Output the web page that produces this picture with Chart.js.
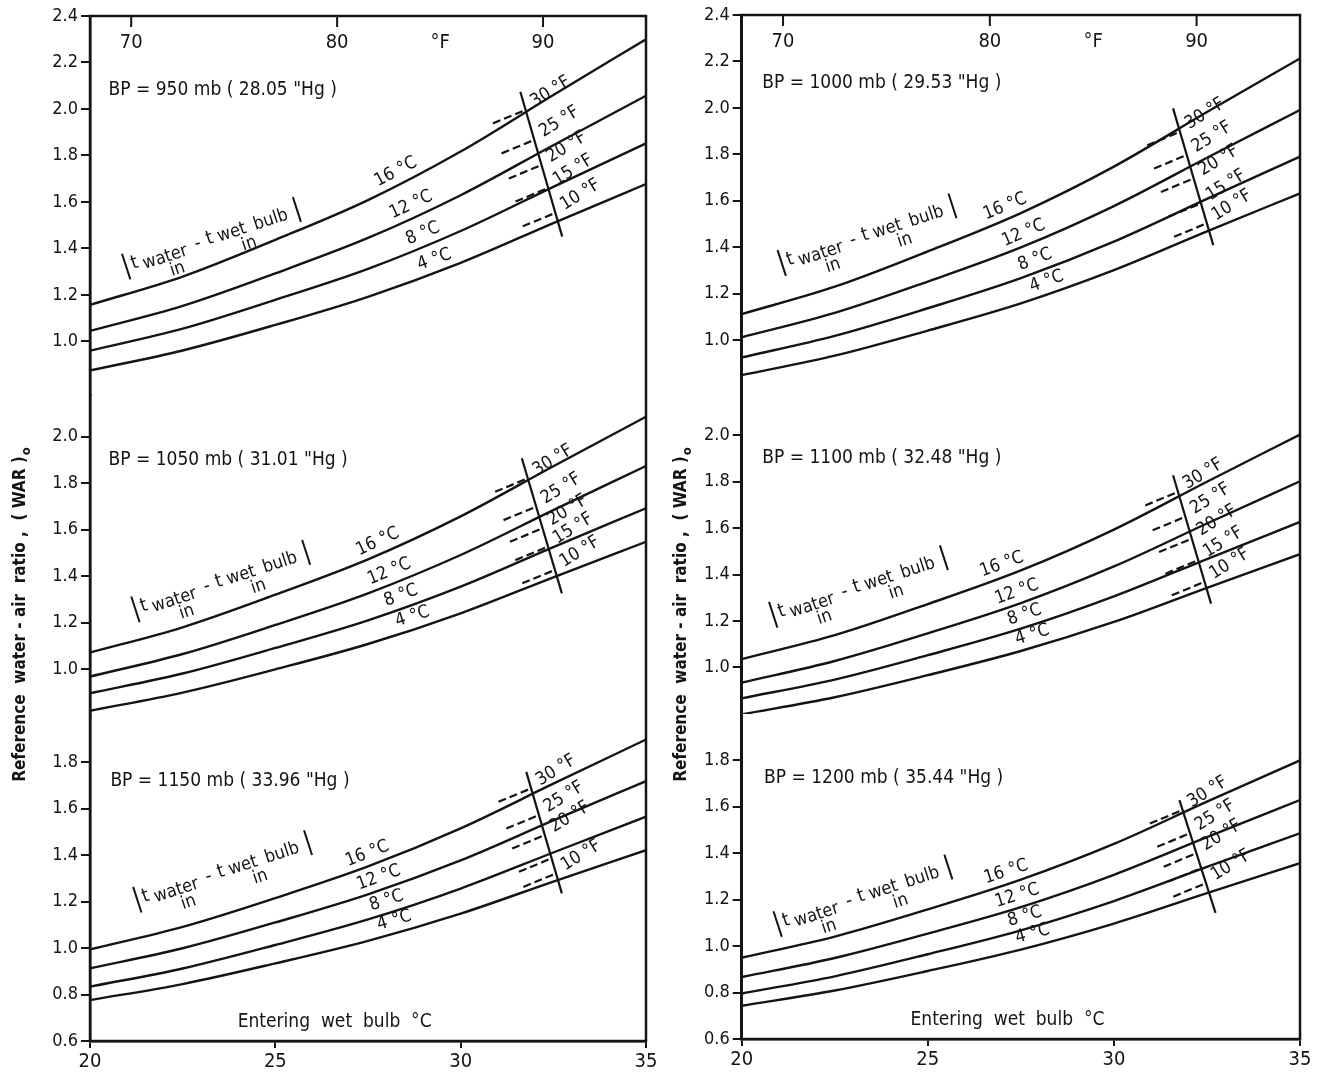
<!DOCTYPE html>
<html>
<head>
<meta charset="utf-8">
<script src="https://cdn.jsdelivr.net/npm/chart.js@4.4.1/dist/chart.umd.min.js"></script>
<style>
  html, body { margin: 0; background: #fff; }
  #wrap { position: relative; width: 1325px; height: 1073px; }
  .box { position: absolute; top: 0; height: 1073px; }
  #boxL { left: 0; width: 660px; }
  #boxR { left: 660px; width: 665px; }
</style>
</head>
<body>
<div id="wrap">
  <div class="box" id="boxL"><canvas id="chartL"></canvas></div>
  <div class="box" id="boxR"><canvas id="chartR"></canvas></div>
</div>
<script>
// ---- data ----
const wetBulbC = [20, 22.5, 25, 27.5, 30, 32.5, 35];
const rangeLabels = ['16 °C', '12 °C', '8 °C', '4 °C'];
const fLabelsAll = ['30 °F', '25 °F', '20 °F', '15 °F', '10 °F'];
const fLabelsNo15 = ['30 °F', '25 °F', '20 °F', null, '10 °F'];
const topTicksF = [70, 80, 90];

const ticksTop = [1.0, 1.2, 1.4, 1.6, 1.8, 2.0, 2.2, 2.4];
const ticksMid = [1.0, 1.2, 1.4, 1.6, 1.8, 2.0];
const ticksBot = [0.6, 0.8, 1.0, 1.2, 1.4, 1.6, 1.8];

// (WAR)o curves, rows = 16, 12, 8, 4 °C range
const war950 = [
  [1.157, 1.279, 1.437, 1.608, 1.817, 2.060, 2.300],
  [1.045, 1.153, 1.293, 1.445, 1.629, 1.844, 2.057],
  [0.960, 1.055, 1.179, 1.312, 1.475, 1.665, 1.852],
  [0.875, 0.961, 1.071, 1.192, 1.338, 1.509, 1.677]
];
const war1050 = [
  [1.071, 1.180, 1.320, 1.472, 1.657, 1.873, 2.086],
  [0.968, 1.065, 1.190, 1.326, 1.491, 1.684, 1.874],
  [0.896, 0.981, 1.091, 1.210, 1.355, 1.525, 1.692],
  [0.821, 0.899, 0.999, 1.108, 1.240, 1.395, 1.548]
];
const war1150 = [
  [0.994, 1.091, 1.215, 1.351, 1.515, 1.707, 1.897],
  [0.913, 0.999, 1.110, 1.231, 1.377, 1.549, 1.718],
  [0.834, 0.912, 1.013, 1.123, 1.256, 1.411, 1.565],
  [0.776, 0.845, 0.934, 1.031, 1.148, 1.286, 1.421]
];
const war1000 = [
  [1.112, 1.230, 1.382, 1.547, 1.747, 1.982, 2.213],
  [1.012, 1.117, 1.252, 1.399, 1.577, 1.785, 1.991],
  [0.925, 1.018, 1.137, 1.267, 1.424, 1.608, 1.790],
  [0.849, 0.933, 1.041, 1.158, 1.301, 1.468, 1.632]
];
const war1100 = [
  [1.036, 1.139, 1.273, 1.418, 1.594, 1.800, 2.003],
  [0.935, 1.028, 1.147, 1.277, 1.435, 1.620, 1.802],
  [0.867, 0.948, 1.053, 1.167, 1.306, 1.467, 1.627],
  [0.798, 0.872, 0.967, 1.071, 1.196, 1.343, 1.488]
];
const war1200 = [
  [0.950, 1.041, 1.158, 1.286, 1.440, 1.622, 1.800],
  [0.867, 0.949, 1.054, 1.168, 1.307, 1.469, 1.629],
  [0.796, 0.870, 0.965, 1.068, 1.194, 1.341, 1.486],
  [0.743, 0.809, 0.893, 0.985, 1.097, 1.228, 1.357]
];

// °F interpolation line [x0, v0, x1, v1] and its 30/25/20/15/10 °F marks
const fLine950 = [31.61, 2.074, 32.74, 1.451];
const fTick950 = [1.996, 1.867, 1.759, 1.660, 1.553];
const fLine1050 = [31.65, 1.907, 32.73, 1.326];
const fTick1050 = [1.821, 1.699, 1.606, 1.527, 1.427];
const fLine1150 = [31.77, 1.758, 32.73, 1.235];
const fTick1150 = [1.687, 1.572, 1.486, 1.386, 1.321];
const fLine1000 = [31.59, 1.998, 32.67, 1.409];
const fTick1000 = [1.897, 1.797, 1.696, 1.589, 1.503];
const fLine1100 = [31.59, 1.828, 32.61, 1.275];
const fTick1100 = [1.756, 1.649, 1.555, 1.462, 1.369];
const fLine1200 = [31.76, 1.629, 32.73, 1.143];
const fTick1200 = [1.586, 1.486, 1.400, 1.336, 1.271];

// ---- look ----
const INK = '#141414';
const FONT = '"DejaVu Sans Condensed", "DejaVu Sans", sans-serif';
const DASH_DX = -0.88, DASH_DV = -0.058;

const panelsL = [
  { axis: 'yT', bp: 'BP = 950 mb ( 28.05 "Hg )', war: war950, fLine: fLine950, fTick: fTick950, fLab: fLabelsAll,
    at: { bp: [20.5, 2.08], lab: [28.4, 28.8, 29.1, 29.4], brk: [20.98, 1.32] } },
  { axis: 'yM', bp: 'BP = 1050 mb ( 31.01 "Hg )', war: war1050, fLine: fLine1050, fTick: fTick1050, fLab: fLabelsAll,
    at: { bp: [20.5, 1.90], lab: [27.9, 28.2, 28.5, 28.8], brk: [21.23, 1.255] } },
  { axis: 'yB', bp: 'BP = 1150 mb ( 33.96 "Hg )', war: war1150, fLine: fLine1150, fTick: fTick1150, fLab: fLabelsNo15,
    at: { bp: [20.55, 1.72], lab: [27.6, 27.9, 28.1, 28.3], brk: [21.28, 1.206] } }
];
const panelsR = [
  { axis: 'yT', bp: 'BP = 1000 mb ( 29.53 "Hg )', war: war1000, fLine: fLine1000, fTick: fTick1000, fLab: fLabelsAll,
    at: { bp: [20.55, 2.105], lab: [27.2, 27.7, 28.0, 28.3], brk: [21.08, 1.33] } },
  { axis: 'yM', bp: 'BP = 1100 mb ( 32.48 "Hg )', war: war1100, fLine: fLine1100, fTick: fTick1100, fLab: fLabelsAll,
    at: { bp: [20.55, 1.90], lab: [27.1, 27.5, 27.7, 27.9], brk: [20.85, 1.225] } },
  { axis: 'yB', bp: 'BP = 1200 mb ( 35.44 "Hg )', war: war1200, fLine: fLine1200, fTick: fTick1200, fLab: fLabelsNo15,
    at: { bp: [20.6, 1.725], lab: [27.2, 27.5, 27.7, 27.9], brk: [20.97, 1.093] } }
];

function interp(xs, ys, x) {
  for (let i = 1; i < xs.length; i++) {
    if (x <= xs[i]) {
      const t = (x - xs[i - 1]) / (xs[i] - xs[i - 1]);
      return ys[i - 1] + t * (ys[i] - ys[i - 1]);
    }
  }
  return ys[ys.length - 1];
}

function buildDatasets(panels) {
  const ds = [];
  panels.forEach(p => {
    p.war.forEach(vals => ds.push({
      data: wetBulbC.map((x, k) => ({ x, y: vals[k] })),
      yAxisID: p.axis, borderColor: INK, borderWidth: 2.4, pointRadius: 0,
      cubicInterpolationMode: 'monotone', fill: false
    }));
    const [x0, v0, x1, v1] = p.fLine;
    ds.push({ data: [{ x: x0, y: v0 }, { x: x1, y: v1 }], yAxisID: p.axis,
      borderColor: INK, borderWidth: 2.2, pointRadius: 0, fill: false });
    p.fTick.forEach(v => {
      const x = x0 + (v0 - v) / (v0 - v1) * (x1 - x0);
      ds.push({ data: [{ x: x + DASH_DX, y: v + DASH_DV }, { x, y: v }], yAxisID: p.axis,
        borderColor: INK, borderWidth: 2.2, borderDash: [8, 4], pointRadius: 0, fill: false });
    });
  });
  return ds;
}

const extras = {
  id: 'extras',
  afterDatasetsDraw(chart, args, opts) {
    const { ctx, chartArea: a, scales } = chart;
    const x = scales.x;
    ctx.save();
    ctx.strokeStyle = INK; ctx.fillStyle = INK;
    ctx.lineWidth = 2.5;
    ctx.strokeRect(a.left, a.top, a.right - a.left, a.bottom - a.top);

    // °F scale along the top
    ctx.lineWidth = 2;
    ctx.font = `20px ${FONT}`; ctx.textAlign = 'center'; ctx.textBaseline = 'middle';
    topTicksF.forEach(f => {
      const px = x.getPixelForValue((f - 32) * 5 / 9);
      ctx.beginPath(); ctx.moveTo(px, a.top); ctx.lineTo(px, a.top + 11); ctx.stroke();
      ctx.fillText(String(f), px, a.top + 27);
    });
    ctx.fillText('°F', x.getPixelForValue((85 - 32) * 5 / 9), a.top + 27);

    opts.panels.forEach(p => {
      const y = scales[p.axis];
      const P = (cx, v) => [x.getPixelForValue(cx), y.getPixelForValue(v)];

      ctx.font = `19px ${FONT}`; ctx.textAlign = 'left'; ctx.textBaseline = 'middle';
      const [bx, by] = P(p.at.bp[0], p.at.bp[1]);
      ctx.fillText(p.bp, bx, by);

      // range labels sitting on each curve
      ctx.font = `18px ${FONT}`;
      p.war.forEach((vals, i) => {
        const cx = p.at.lab[i];
        const [px, py] = P(cx, interp(wetBulbC, vals, cx));
        const [qx, qy] = P(cx + 0.3, interp(wetBulbC, vals, cx + 0.3));
        const [rx, ry] = P(cx - 0.3, interp(wetBulbC, vals, cx - 0.3));
        ctx.save();
        ctx.translate(px, py); ctx.rotate(Math.atan2(qy - ry, qx - rx));
        ctx.textAlign = 'center'; ctx.textBaseline = 'bottom';
        ctx.fillText(rangeLabels[i], 0, -3);
        ctx.restore();
      });

      // °F labels beside the interpolation line
      const [x0, v0, x1, v1] = p.fLine;
      p.fTick.forEach((v, i) => {
        if (!p.fLab[i]) return;
        const [px, py] = P(x0 + (v0 - v) / (v0 - v1) * (x1 - x0), v);
        ctx.save();
        ctx.translate(px + 25, py - 18); ctx.rotate(-32 * Math.PI / 180);
        ctx.textAlign = 'center'; ctx.textBaseline = 'middle';
        ctx.fillText(p.fLab[i], 0, 0);
        ctx.restore();
      });

      // (t water in - t wet bulb in) bracket
      const [kx, ky] = P(p.at.brk[0], p.at.brk[1]);
      ctx.save();
      ctx.translate(kx, ky); ctx.rotate(-18 * Math.PI / 180);
      ctx.lineWidth = 2;
      ctx.beginPath(); ctx.moveTo(0, -14); ctx.lineTo(0, 13); ctx.stroke();
      ctx.beginPath(); ctx.moveTo(180, -15); ctx.lineTo(180, 11); ctx.stroke();
      ctx.textAlign = 'center'; ctx.textBaseline = 'middle';
      ctx.font = `19px ${FONT}`;
      ctx.fillText('t', 9, -1);
      ctx.fillText('t', 88, -1);
      ctx.fillText('-', 75, 0);
      ctx.font = `18px ${FONT}`;
      ctx.fillText('water', 40, 3);
      ctx.fillText('wet', 111, 0);
      ctx.fillText('bulb', 152, 0);
      ctx.fillText('in', 48, 18);
      ctx.fillText('in', 124, 16);
      ctx.restore();
    });

    if (opts.xTitle) {
      const yb = scales.yB;
      ctx.font = `19px ${FONT}`; ctx.textAlign = 'center'; ctx.textBaseline = 'middle';
      ctx.fillText('Entering  wet  bulb  °C', x.getPixelForValue(opts.xTitle[0]), yb.getPixelForValue(opts.xTitle[1]));
    }

    // vertical axis title
    ctx.save();
    ctx.translate(opts.titleX, opts.titleY); ctx.rotate(-Math.PI / 2);
    ctx.font = `bold 17px ${FONT}`; ctx.textAlign = 'center'; ctx.textBaseline = 'middle';
    const t = 'Reference  water - air  ratio ,  ( WAR )';
    const w = ctx.measureText(t).width;
    ctx.fillText(t, -6, 0);
    ctx.font = `bold 13px ${FONT}`; ctx.textAlign = 'left';
    ctx.fillText('o', -6 + w / 2 + 1, 6);
    ctx.restore();

    ctx.restore();
  }
};

function yAxis(min, max, weight, ticks, order, width) {
  return {
    type: 'linear', position: 'left', stack: 'war', stackWeight: weight, weight: order,
    min, max,
    afterBuildTicks: s => { s.ticks = ticks.map(v => ({ value: v })); },
    afterFit: s => { s.width = width; },
    ticks: { autoSkip: false, color: INK, padding: 3, font: { family: FONT, size: 18 },
      callback: v => Number(v).toFixed(1) },
    grid: { drawOnChartArea: false, drawTicks: true, tickLength: 9, color: INK, lineWidth: 2 },
    border: { display: true, color: INK, width: 2.5 }
  };
}

function makeChart(id, panels, o) {
  return new Chart(document.getElementById(id), {
    type: 'line',
    data: { datasets: buildDatasets(panels) },
    options: {
      responsive: true, maintainAspectRatio: false, animation: false,
      layout: { padding: { top: o.top, right: o.right, left: 0, bottom: 0 } },
      plugins: {
        legend: { display: false }, tooltip: { enabled: false },
        extras: { panels, xTitle: o.xTitle, titleX: o.titleX, titleY: o.titleY }
      },
      scales: {
        x: {
          type: 'linear', min: 20, max: 35,
          afterFit: s => { s.height = o.xHeight; },
          ticks: { stepSize: 5, color: INK, padding: 2, font: { family: FONT, size: 20 } },
          grid: { drawOnChartArea: false, drawTicks: true, tickLength: 7, color: INK, lineWidth: 2 },
          border: { display: true, color: INK, width: 2.5 }
        },
        yB: yAxis(0.6, 2.0, 1.40, ticksBot, 1, o.yWidth),
        yM: yAxis(0.8, 2.18, 1.38, ticksMid, 2, o.yWidth),
        yT: yAxis(0.77, 2.4, 1.63, ticksTop, 3, o.yWidth)
      }
    },
    plugins: [extras]
  });
}

makeChart('chartL', panelsL, { top: 16, right: 14, xHeight: 32, yWidth: 90, xTitle: [26.6, 0.68], titleX: 21, titleY: 613 });
makeChart('chartR', panelsR, { top: 15, right: 25, xHeight: 34, yWidth: 81.7, xTitle: [27.14, 0.68], titleX: 22, titleY: 613 });
</script>
</body>
</html>
